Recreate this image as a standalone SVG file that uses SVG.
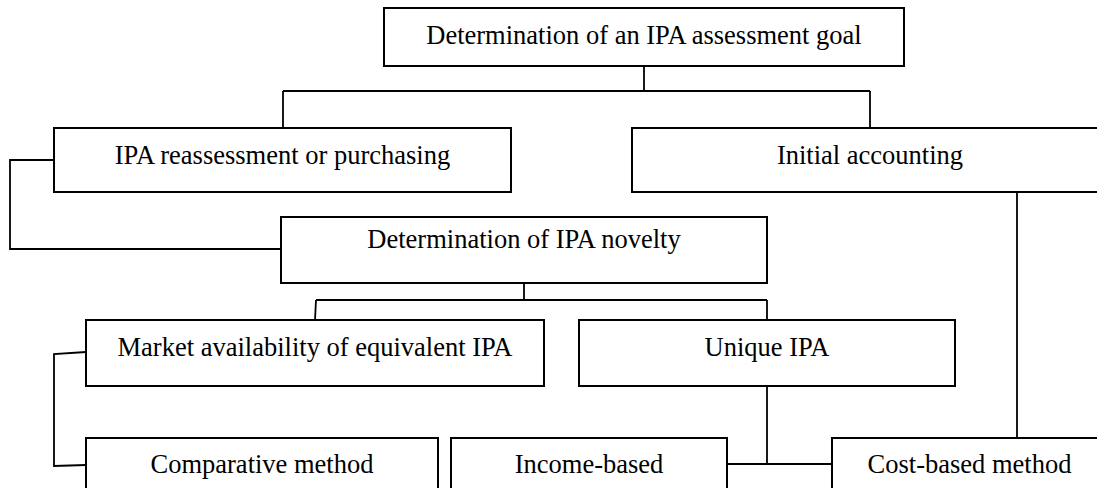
<svg xmlns="http://www.w3.org/2000/svg" width="1097" height="488" viewBox="0 0 1097 488">
<style>
.box{fill:#fff;stroke:#000;stroke-width:2}
.lbl{font-family:"Liberation Serif","Times New Roman",serif;font-size:26.5px;fill:#000;text-anchor:middle}
.conn{fill:none;stroke:#000;stroke-width:1.8}
</style>
<rect width="1097" height="488" fill="#fff"/>
<g id="connectors">
<path class="conn" d="M644,66 V91 M283,91 H870 M283,91 V128 M870,91 V128"/>
<path class="conn" d="M54,160 H10 V249 H281"/>
<path class="conn" d="M524,283 V300 M316,300 H767 M316,300 L315,320 M767,300 V320"/>
<path class="conn" d="M86,352 L54,354 V466 L86,465"/>
<path class="conn" d="M767,386 V464 M727,464 H832"/>
<path class="conn" d="M1017,192 V438"/>
</g>
<g id="goal"><rect class="box" x="384" y="8" width="520" height="58"/><text class="lbl" x="644" y="44">Determination of an IPA assessment goal</text></g>
<g id="reassessment"><rect class="box" x="54" y="128" width="457" height="64"/><text class="lbl" x="282.5" y="164">IPA reassessment or purchasing</text></g>
<g id="initial"><rect class="box" x="632" y="128" width="480" height="64"/><text class="lbl" x="870" y="164">Initial accounting</text></g>
<g id="novelty"><rect class="box" x="281" y="217" width="486" height="66"/><text class="lbl" x="524" y="248">Determination of IPA novelty</text></g>
<g id="market"><rect class="box" x="86" y="320" width="458" height="66"/><text class="lbl" x="315" y="356">Market availability of equivalent IPA</text></g>
<g id="unique"><rect class="box" x="579" y="320" width="376" height="66"/><text class="lbl" x="767" y="356">Unique IPA</text></g>
<g id="comparative"><rect class="box" x="86" y="438" width="352" height="60"/><text class="lbl" x="262" y="473">Comparative method</text></g>
<g id="income"><rect class="box" x="451" y="438" width="276" height="60"/><text class="lbl" x="589" y="473">Income-based</text></g>
<g id="cost"><rect class="box" x="832" y="438" width="275" height="60"/><text class="lbl" x="969.5" y="473">Cost-based method</text></g>
</svg>
